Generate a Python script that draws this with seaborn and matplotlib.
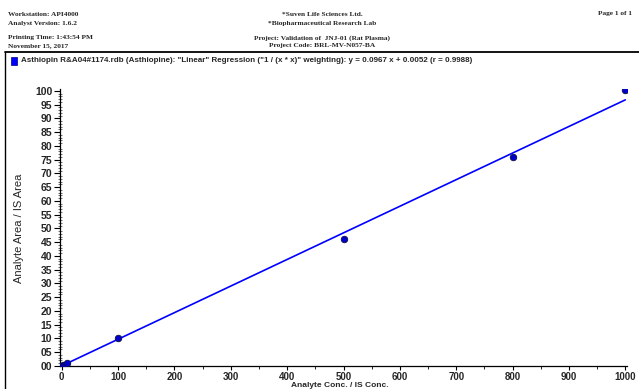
import numpy as np
import pandas as pd
import matplotlib
matplotlib.use("Agg")
import matplotlib.pyplot as plt
from matplotlib.lines import Line2D
from matplotlib.patches import Rectangle
from matplotlib.ticker import MultipleLocator
import seaborn as sns

# calibration points (conc ratio vs area ratio)
conc = [0.1, 0.2, 0.5, 1.0, 10.0, 50.0, 80.0, 100.0]
area = [0.012, 0.024, 0.05, 0.10, 1.00, 4.63, 7.58, 10.02]

# regression from the legend
slope, intercept = 0.0967, 0.0052
fit_x = [0.0, 100.0]

x_ticks = [0, 10, 20, 30, 40, 50, 60, 70, 80, 90, 100]
x_labels = ["0", "100", "200", "300", "400", "500", "600", "700", "800", "900", "1000"]
y_ticks = [0, 0.5, 1, 1.5, 2, 2.5, 3, 3.5, 4, 4.5, 5, 5.5, 6, 6.5, 7, 7.5, 8, 8.5, 9, 9.5, 10]
y_labels = ["00", "05", "10", "15", "20", "25", "30", "35", "40", "45", "50",
            "55", "60", "65", "70", "75", "80", "85", "90", "95", "100"]

header_left = ["Workstation: API4000", "Analyst Version: 1.6.2", "Printing Time: 1:43:54 PM", "November 15, 2017"]
header_mid = ["*Suven Life Sciences Ltd.", "*Biopharmaceutical Research Lab",
              "Project: Validation of  JNJ-01 (Rat Plasma)", "Project Code: BRL-MV-N057-BA"]
legend_txt = ('Asthiopin R&A04#1174.rdb (Asthiopine): "Linear" Regression ("1 / (x * x)" weighting): '
              'y = 0.0967 x + 0.0052 (r = 0.9988)')

sns.set_style("white")
narrow = ["Liberation Sans Narrow", "Liberation Sans", "DejaVu Sans"]
serif = ["Liberation Serif", "DejaVu Serif"]

W, H = 639, 389
fig = plt.figure(figsize=(W / 100, H / 100), dpi=100)

def fx(px): return px / W
def fy(py): return 1 - py / H

# header
ys = [14, 23, 38, 46]
for t, y in zip(header_left, ys):
    fig.text(fx(8), fy(y), t, family=serif, fontsize=5.3, fontweight="bold", va="center", ha="left")
for t, y in zip(header_mid, ys):
    fig.text(fx(322), fy(y), t, family=serif, fontsize=5.3, fontweight="bold", va="center", ha="center")
fig.text(fx(632), fy(14), "Page 1 of 1", family=serif, fontsize=5.3, fontweight="bold", va="center", ha="right")

# frame around the plot area
fig.add_artist(Line2D([fx(5), 1], [fy(52), fy(52)], color="black", lw=1.3, transform=fig.transFigure))
fig.add_artist(Line2D([fx(5), fx(5)], [fy(52), 0], color="black", lw=1.0, transform=fig.transFigure))
fig.add_artist(Rectangle((fx(11), fy(65)), fx(6), 8 / H, facecolor="#0000ff", edgecolor="#000080",
                         lw=0.5, transform=fig.transFigure))
fig.text(fx(21), fy(61), legend_txt, family=narrow, fontsize=5.8, fontweight="bold", va="center", ha="left")

ax = fig.add_axes([fx(60), fy(366), fx(627) - fx(60), fy(89) - fy(366)])
df = pd.DataFrame({"conc": conc, "area": area})
fit_df = pd.DataFrame({"x": fit_x, "y": [slope * v + intercept for v in fit_x]})
sns.lineplot(data=fit_df, x="x", y="y", ax=ax, color="#0000ff", lw=1.2, zorder=2)
sns.scatterplot(data=df, x="conc", y="area", ax=ax, color="#0000cc", edgecolor="#101040",
                s=22, linewidth=0.6, zorder=3)

ax.set_xlim(-0.3, 100.3)
ax.set_ylim(0, 10.07)
ax.set_xticks(x_ticks)
ax.set_xticklabels(x_labels, family=narrow, fontsize=7, fontweight="bold")
ax.set_yticks(y_ticks)
ax.set_yticklabels(y_labels, family=narrow, fontsize=7.5, fontweight="bold")
ax.xaxis.set_minor_locator(MultipleLocator(5))
ax.yaxis.set_minor_locator(MultipleLocator(0.1))
ax.tick_params(which="both", left=True, bottom=True, color="black")
ax.tick_params(axis="both", which="major", direction="out", length=4, width=0.8, pad=1.5)
ax.tick_params(axis="x", which="major", length=3, pad=1)
ax.tick_params(axis="y", which="minor", direction="inout", length=3, width=0.4)
ax.tick_params(axis="x", which="minor", direction="out", length=2, width=0.6)
for s in ["top", "right"]:
    ax.spines[s].set_visible(False)
for s in ["left", "bottom"]:
    ax.spines[s].set_color("black")
    ax.spines[s].set_linewidth(0.9)
ax.set_xlabel("")
ax.set_ylabel("")
fig.text(fx(19), fy(228), "Analyte Area / IS Area", family=narrow, fontsize=8, rotation=90,
         va="center", ha="center")
fig.text(fx(340), fy(385.5), "Analyte Conc. / IS Conc.", family=narrow, fontsize=6, fontweight="bold",
         va="center", ha="center")

fig.savefig("out.png", dpi=100)
